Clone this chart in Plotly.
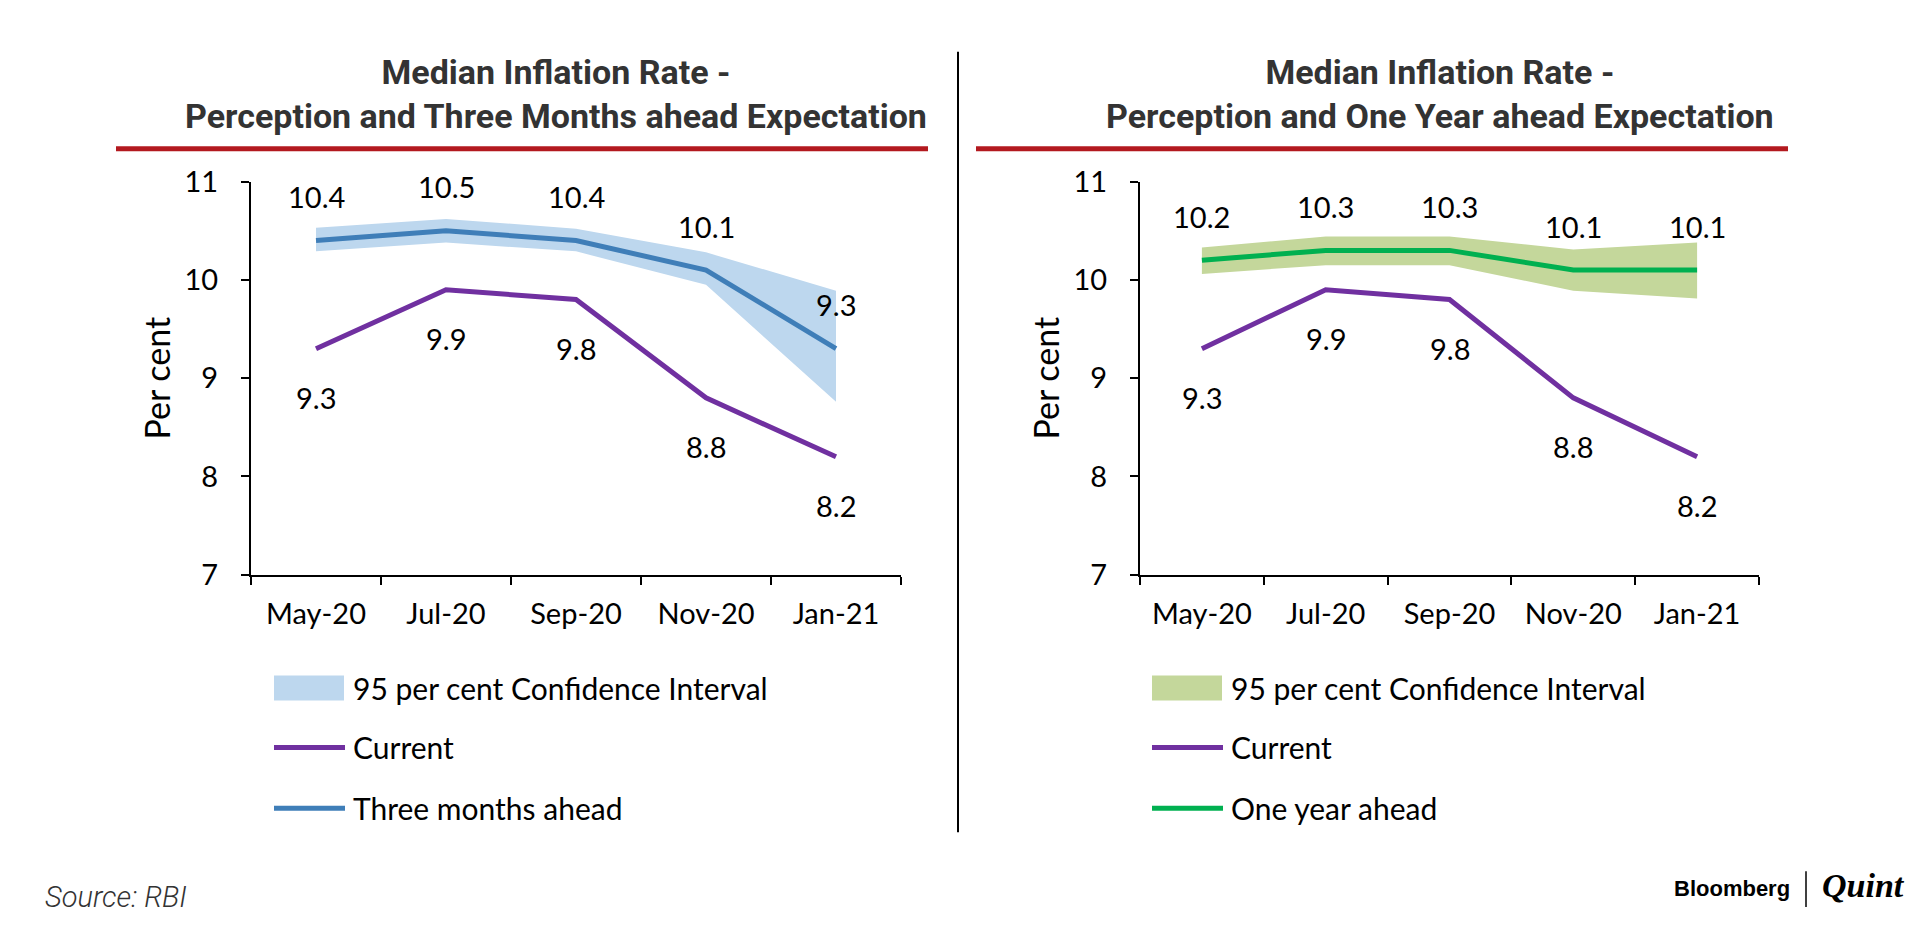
import plotly.graph_objects as go

# ---------------- data ----------------
months = ["May-20", "Jul-20", "Sep-20", "Nov-20", "Jan-21"]
current = [9.3, 9.9, 9.8, 8.8, 8.2]
three_month = [10.4, 10.5, 10.4, 10.1, 9.3]
three_month_ci_low = [10.29, 10.38, 10.29, 9.95, 8.76]
three_month_ci_high = [10.53, 10.62, 10.52, 10.28, 9.89]
one_year = [10.2, 10.3, 10.3, 10.1, 10.1]
one_year_ci_low = [10.06, 10.15, 10.15, 9.89, 9.81]
one_year_ci_high = [10.33, 10.44, 10.44, 10.31, 10.38]
y_ticks = [7, 8, 9, 10, 11]

left_title = ["Median Inflation Rate -", "Perception and Three Months ahead Expectation"]
right_title = ["Median Inflation Rate -", "Perception and One Year ahead Expectation"]
legend_left = ["95 per cent Confidence Interval", "Current", "Three months ahead"]
legend_right = ["95 per cent Confidence Interval", "Current", "One year ahead"]

# ---------------- styles ----------------
W, H = 1920, 930
PURPLE = "#7030A0"
BLUE = "#3F7EB8"
BLUE_BAND = "#BDD7EE"
GREEN = "#00B050"
GREEN_BAND = "#C4D79B"
RED = "#B3191F"
FONT = "Lato"
LBL = 29
VS = 0.9643   # vertical compensation observed in the photographed page
VO = 18.1


def px(x):
    return x / W


def py(y):
    return 1 - ((y - VO) / VS) / H


fig = go.Figure()


def add_panel(xa, ya, low, high, main, band_color, main_color):
    fig.add_trace(go.Scatter(x=months, y=low, mode="lines", line=dict(width=0, color=band_color),
                             xaxis=xa, yaxis=ya, showlegend=False, hoverinfo="skip"))
    fig.add_trace(go.Scatter(x=months, y=high, mode="lines", line=dict(width=0, color=band_color),
                             fill="tonexty", fillcolor=band_color,
                             xaxis=xa, yaxis=ya, showlegend=False, hoverinfo="skip"))
    fig.add_trace(go.Scatter(x=months, y=current, mode="lines", line=dict(width=5, color=PURPLE),
                             xaxis=xa, yaxis=ya, showlegend=False))
    fig.add_trace(go.Scatter(x=months, y=main, mode="lines", line=dict(width=5, color=main_color),
                             xaxis=xa, yaxis=ya, showlegend=False))
    xr = "x" if xa == "x" else "x2"
    yr = "y" if ya == "y" else "y2"
    for m, v in zip(months, main):
        fig.add_annotation(x=m, y=v, xref=xr, yref=yr, text=f"{v:.1f}", showarrow=False,
                           yshift=44, font=dict(family=FONT, size=LBL, color="black"))
    for m, v in zip(months, current):
        fig.add_annotation(x=m, y=v, xref=xr, yref=yr, text=f"{v:.1f}", showarrow=False,
                           yshift=-49, font=dict(family=FONT, size=LBL, color="black"))


add_panel("x", "y", three_month_ci_low, three_month_ci_high, three_month, BLUE_BAND, BLUE)
add_panel("x2", "y2", one_year_ci_low, one_year_ci_high, one_year, GREEN_BAND, GREEN)

xax = dict(type="category", range=[-0.5, 4.5], showline=True, linecolor="black", linewidth=2,
           ticks="outside", tickson="boundaries", ticklen=8, tickwidth=2, tickcolor="black",
           showgrid=False, zeroline=False, tickfont=dict(family=FONT, size=LBL, color="black"),
           ticklabelstandoff=12, fixedrange=True)
yax = dict(range=[7, 11], tickvals=y_ticks, showline=True, linecolor="black", linewidth=2,
           ticks="outside", ticklen=8, tickwidth=2, tickcolor="black", showgrid=False,
           zeroline=False, tickfont=dict(family=FONT, size=LBL, color="black"),
           ticklabelstandoff=17, fixedrange=True,
           title=dict(text="Per cent", font=dict(family=FONT, size=34, color="black"), standoff=4),
           domain=[py(575), py(181)])

fig.update_layout(
    width=W, height=H, margin=dict(l=0, r=0, t=0, b=0),
    paper_bgcolor="white", plot_bgcolor="white", showlegend=False,
    xaxis=dict(xax, domain=[px(251), px(901)], anchor="y"),
    yaxis=dict(yax, anchor="x"),
    xaxis2=dict(xax, domain=[px(1140), px(1759)], anchor="y2"),
    yaxis2=dict(yax, anchor="x2"),
)

# titles (two lines in one text block)
for cx, lines in ((556, left_title), (1440, right_title)):
    fig.add_annotation(x=px(cx), y=py(93), xref="paper", yref="paper", text="<br>".join(lines),
                       showarrow=False, xanchor="center", yanchor="middle", align="center",
                       font=dict(family="Roboto", size=34, color="#333333", weight="bold"))

# red rules and divider
fig.add_shape(type="line", xref="paper", yref="paper", x0=px(116), x1=px(928), y0=py(148), y1=py(148),
              line=dict(color=RED, width=5))
fig.add_shape(type="line", xref="paper", yref="paper", x0=px(976), x1=px(1788), y0=py(148), y1=py(148),
              line=dict(color=RED, width=5))
fig.add_shape(type="line", xref="paper", yref="paper", x0=px(958), x1=px(958), y0=py(51), y1=py(833),
              line=dict(color="black", width=2))

# legends (drawn as layout decorations)
for x0, names, band, main_c in ((274, legend_left, BLUE_BAND, BLUE), (1152, legend_right, GREEN_BAND, GREEN)):
    fig.add_shape(type="rect", xref="paper", yref="paper", x0=px(x0), x1=px(x0 + 70), y0=py(701), y1=py(676),
                  fillcolor=band, line=dict(width=0))
    fig.add_shape(type="line", xref="paper", yref="paper", x0=px(x0), x1=px(x0 + 71), y0=py(748), y1=py(748),
                  line=dict(color=PURPLE, width=5))
    fig.add_shape(type="line", xref="paper", yref="paper", x0=px(x0), x1=px(x0 + 71), y0=py(809), y1=py(809),
                  line=dict(color=main_c, width=5))
    for yy, t in zip((688, 748, 809), names):
        fig.add_annotation(x=px(x0 + 77), y=py(yy), xref="paper", yref="paper", text=t, showarrow=False,
                           xanchor="left", yanchor="middle",
                           font=dict(family=FONT, size=30, color="black"))

# source & logo
fig.add_annotation(x=px(43), y=py(898), xref="paper", yref="paper", text="Source: RBI", showarrow=False,
                   xanchor="left", yanchor="middle",
                   font=dict(family="Roboto", size=29, color="#333333", style="italic", weight=300))
fig.add_annotation(x=px(1672), y=py(889), xref="paper", yref="paper", text="Bloomberg", showarrow=False,
                   xanchor="left", yanchor="middle",
                   font=dict(family="Liberation Sans", size=22, color="black", weight="bold"))
fig.add_shape(type="line", xref="paper", yref="paper", x0=px(1806), x1=px(1806), y0=py(872), y1=py(908),
              line=dict(color="black", width=1.5))
fig.add_annotation(x=px(1820), y=py(886), xref="paper", yref="paper", text="Quint", showarrow=False,
                   xanchor="left", yanchor="middle",
                   font=dict(family="Liberation Serif", size=34, color="black", weight="bold", style="italic"))

fig.write_html("out.html", config={"displayModeBar": False},
               post_script="document.body.style.margin='0';document.body.style.overflow='hidden';")
